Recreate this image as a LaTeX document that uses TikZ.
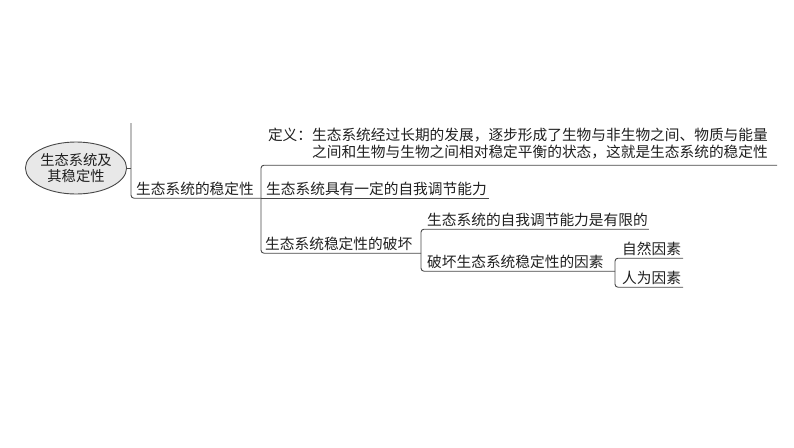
\documentclass[tikz,border=0pt]{standalone}
\usepackage{fontspec}
\newfontfamily\cjk{Noto Sans CJK SC}
\usetikzlibrary{shapes.geometric,calc}
\begin{document}
\begin{tikzpicture}[x=1pt,y=-1pt,
  txt/.style={inner xsep=0pt, inner ysep=3.5pt, text depth=0pt, anchor=base west,
    font=\cjk\fontsize{14.7}{17}\selectfont, text=black!88},
  ln/.style={draw=black!72, line width=0.9pt, rounded corners=3pt},
  rootbox/.style={ellipse, draw=black!72, line width=0.9pt, fill=black!9,
    minimum width=87pt, minimum height=52pt, inner sep=0pt, align=center,
    font=\cjk\fontsize{14.3}{16.5}\selectfont, text=black!88}]
\useasboundingbox (0,0) rectangle (794,447);

\node[rootbox] (root) at (76,168) {生态系统及\\其稳定性};

\node[txt] (n1) at (136,194.5) {生态系统的稳定性};
\node[txt,anchor=base east] (defA) at (768,140) {定义：生态系统经过长期的发展，逐步形成了生物与非生物之间、物质与能量};
\node[txt,anchor=base east,inner ysep=7.5pt] (defB) at (768,157.5) {之间和生物与生物之间相对稳定平衡的状态，这就是生态系统的稳定性};
\node[txt] (n3) at (266,194.5) {生态系统具有一定的自我调节能力};
\node[txt] (n4) at (265,249.5) {生态系统稳定性的破坏};
\node[txt] (n5) at (427,225.5) {生态系统的自我调节能力是有限的};
\node[txt] (n6) at (427,267.5) {破坏生态系统稳定性的因素};
\node[txt] (n7) at (622,254.5) {自然因素};
\node[txt] (n8) at (622,283.5) {人为因素};

\coordinate (b1t) at (131,123);
\coordinate (b1m) at (131,168);
\coordinate (b2) at (261,0);
\coordinate (b3) at (421,0);
\coordinate (b4) at (615,0);

\draw[ln] (root.east) -- (b1m);
\draw[ln] (b1t) |- (b2 |- n1.south);
\draw[ln] ([xshift=9pt]defB.south east) -| (b2 |- n4.south) -- (b3 |- n4.south);
\draw[ln] (b2 |- n3.south) -- ([xshift=2pt]n3.south east);
\draw[ln] ([xshift=1pt]n5.south east) -| (b3 |- n6.south) -- (b4 |- n6.south);
\draw[ln] ([xshift=2pt]n7.south east) -| (b4 |- n8.south) -- ([xshift=2pt]n8.south east);
\end{tikzpicture}
\end{document}
